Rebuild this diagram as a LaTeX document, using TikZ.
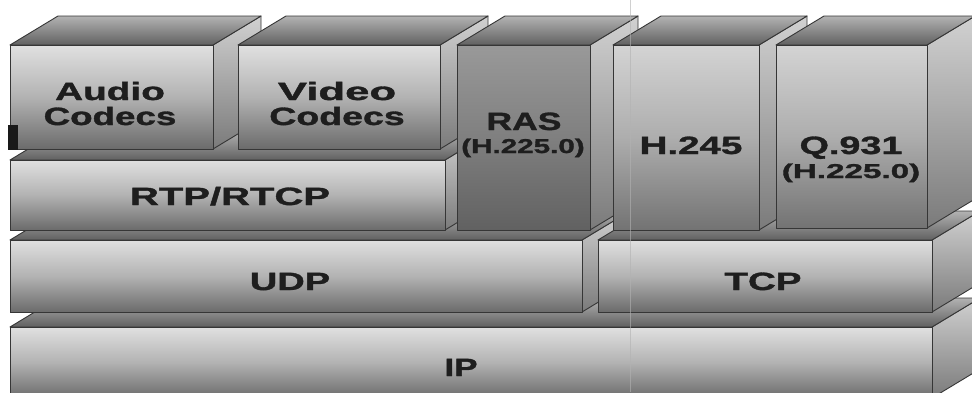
\documentclass[tikz,border=0pt]{standalone}
\usepackage{fontspec}
\setmainfont{Liberation Sans}
\newfontfamily\heavy[BoldFeatures={FakeBold=1.2}]{Liberation Sans}
\usepackage{graphicx}
\definecolor{edgecol}{HTML}{363636}
\definecolor{txtcol}{HTML}{1E1E1E}
\newcommand\W[2][1.5]{\scalebox{#1}[1]{#2}}
\def\DX{48}
\def\DY{29}
\tikzset{
  edge/.style={draw=edgecol, line width=0.9pt, line join=round},
  frontS/.style={edge, top color=black!12, bottom color=black!58, middle color=black!30},
  tallS/.style={edge, top color=black!17, bottom color=black!55, middle color=black!32},
  rasS/.style={edge, top color=black!40, bottom color=black!62, middle color=black!50},
  topS/.style={edge, top color=black!30, bottom color=black!62},
  sideS/.style={edge, top color=black!18, bottom color=black!52},
  lbl/.style={anchor=base, inner sep=0pt, text=txtcol, font=\heavy\bfseries\fontsize{25}{25}\selectfont},
  sublbl/.style={anchor=base, inner sep=0pt, text=txtcol, font=\heavy\bfseries\fontsize{20}{20}\selectfont}
}
% #1 front style, #2 x1, #3 y1 (top), #4 x2, #5 y2 (bottom)
\newcommand\blk[5][frontS]{%
  \draw[sideS] (#4,#3) -- ++(\DX,-\DY) -- ++(0,{#5-#3}) -- (#4,#5) -- cycle;
  \draw[topS] (#2,#3) -- ++(\DX,-\DY) -- ({#4+\DX},{#3-\DY}) -- (#4,#3) -- cycle;
  \draw[#1] (#2,#3) rectangle (#4,#5);}
\begin{document}
\begin{tikzpicture}[x=1pt,y=-1pt]
\useasboundingbox (0,0) rectangle (972,392);
\fill[white] (0,0) rectangle (972,392);
\clip (0,0) rectangle (972,392);
% bottom layer
\blk{10}{327}{932}{398}
% transport layer
\blk{10}{240}{582}{312}
\blk{598}{240}{932}{312}
% RTP
\blk{10}{160}{445}{230}
% codecs
\blk{10}{45}{213}{149}
\blk{238}{45}{440}{149}
% signalling
\blk[rasS]{457}{45}{590}{230}
\blk[tallS]{613}{45}{759}{230}
\blk[tallS]{776}{45}{927}{228}
% marks
\fill[black!90] (8,125) rectangle (18,150);
\draw[black!30, line width=0.6pt, opacity=0.6] (630,0) -- (630,392);
% labels
\node[lbl] (audio1) at (110,100) {\W[1.55]{Audio}};
\node[lbl] (audio2) at (110,125) {\W[1.47]{Codecs}};
\node[lbl] (video1) at (337,100) {\W[1.75]{Video}};
\node[lbl] (video2) at (337,125) {\W[1.5]{Codecs}};
\node[lbl] (rtp) at (230,205) {\W[1.6]{RTP/RTCP}};
\node[lbl] (ras1) at (524,130) {\W[1.42]{RAS}};
\node[sublbl] (ras2) at (523,153) {\W[1.48]{(H.225.0)}};
\node[lbl] (h245) at (691,154) {\W[1.54]{H.245}};
\node[lbl] (q1) at (851,154) {\W[1.51]{Q.931}};
\node[sublbl] (q2) at (851,178) {\W[1.66]{(H.225.0)}};
\node[lbl] (udp) at (290,290) {\W[1.52]{UDP}};
\node[lbl] (tcp) at (763,290) {\W[1.54]{TCP}};
\node[lbl] (ip) at (461,376) {\W[1.4]{IP}};
\end{tikzpicture}
\end{document}
